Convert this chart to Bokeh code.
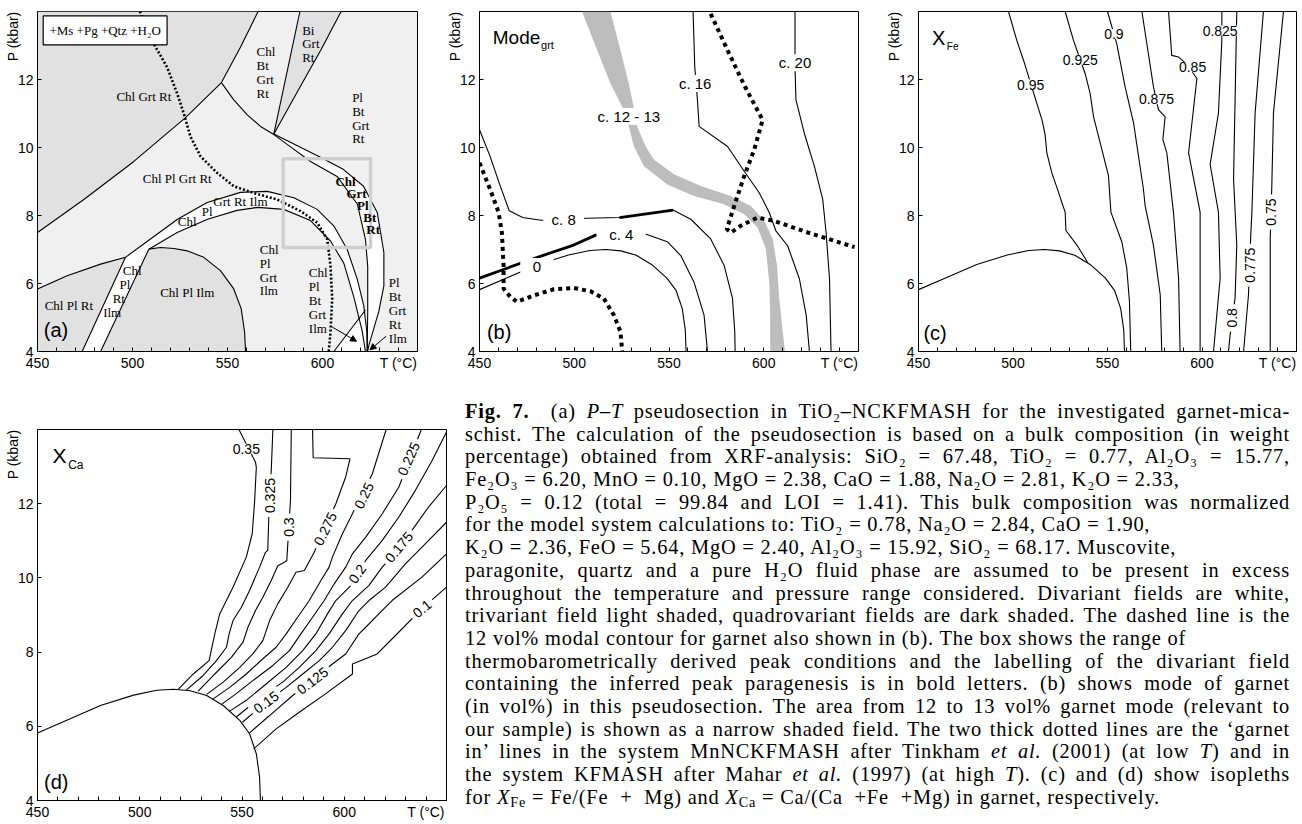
from bokeh.plotting import figure
from bokeh.models import FixedTicker, Label, Arrow, NormalHead, Div, Range1d, Title
from bokeh.layouts import row, column
from bokeh.embed import file_html
from bokeh.resources import INLINE
from bokeh.core.properties import value

SANS = "Liberation Sans"
SERIF = "Liberation Serif"
NB = "\u00a0"

# ---------------- axes ----------------
X_MAJOR = [450, 500, 550, 600, 640]
X_LABELS = {640: "T (°C)"}
X_MINOR = [460, 470, 480, 490, 510, 520, 530, 540, 560, 570, 580, 590, 610, 620, 630]
Y_MAJOR = [4, 6, 8, 10, 12]
Y_TITLE = "P (kbar)"

# ---------------- garnet-in curve (b, c, d) ----------------
GRT_T = [450.0, 464.6, 480.8, 497.0, 508.3, 516.5, 524.6, 532.7, 540.8, 548.9, 553.7, 557.0, 558.6, 559.0]
GRT_P = [5.82, 6.17, 6.56, 6.84, 6.97, 7.00, 6.96, 6.83, 6.56, 6.16, 5.80, 5.26, 4.63, 4.00]

# ---------------- panel (a) ----------------
A_UL_T = [450.0, 474.4, 500.7, 527.9, 546.8]
A_UL_P = [7.50, 8.47, 9.59, 10.88, 11.91]
A_UP_T = [546.8, 556.8, 566.1]
A_UP_P = [11.91, 12.95, 14.0]
A_BL_T = [546.8, 553.3, 560.4, 567.4, 574.4, 583.2, 593.7, 607.7, 618.4, 622.6, 623.8, 623.8, 623.5]
A_BL_P = [11.91, 11.40, 10.96, 10.62, 10.38, 10.02, 9.59, 9.15, 8.33, 7.30, 6.51, 5.17, 4.0]
A_BR_T = [574.4, 598.9, 611.1, 621.6, 628.8, 632.3, 632.3, 629.6, 624.4, 623.7]
A_BR_P = [10.40, 9.71, 9.35, 8.86, 8.09, 6.92, 5.93, 5.17, 4.18, 4.0]
A_WL_T = [574.4, 588.1]
A_WL_P = [10.40, 14.0]
A_WR_T = [574.4, 589.2, 599.0, 609.8]
A_WR_P = [10.40, 11.88, 12.85, 14.0]
A_ARCU_T = [496.3, 510.0, 523.7, 539.3, 556.8, 570.9, 584.9, 597.2, 606.0, 613.0, 618.3, 621.7, 623.3, 623.6]
A_ARCU_P = [6.77, 7.33, 7.89, 8.38, 8.68, 8.71, 8.52, 8.18, 7.69, 7.00, 6.13, 5.35, 4.60, 4.0]
A_ARCL_T = [508.6, 523.5, 539.5, 555.0, 566.0, 579.6, 593.7, 604.2, 611.2, 616.5, 620.9, 622.6]
A_ARCL_P = [7.01, 7.50, 7.89, 8.15, 8.24, 8.18, 7.85, 7.25, 6.60, 5.60, 4.60, 4.0]
A_RL_T = [473.5, 496.3]
A_RL_P = [4.0, 6.77]
A_RR_T = [483.2, 508.6]
A_RR_P = [4.0, 7.01]
A_LOW_T = [450.0, 465.6, 483.2, 496.3]
A_LOW_P = [5.84, 6.23, 6.57, 6.77]
A_CPI_T = [508.6, 514.7, 521.8, 528.8, 537.5, 546.3, 553.3, 557.2, 559.0, 559.5]
A_CPI_P = [7.01, 7.06, 7.03, 6.96, 6.77, 6.38, 5.84, 5.26, 4.57, 4.0]
A_TRI_T = [606.0, 622.6]
A_TRI_P = [4.0, 5.22]
A_TRIF_T = [606.0, 619.4, 620.9, 622.6]
A_TRIF_P = [4.0, 4.98, 4.60, 4.0]
A_DOT_T = [503.9, 511.2, 518.2, 523.5, 527.0, 530.5, 535.8, 544.6, 553.3, 563.9, 576.1, 588.4, 597.2, 602.5, 604.2, 605.1, 604.2, 603.3]
A_DOT_P = [14.0, 13.05, 12.36, 11.59, 11.0, 10.32, 9.74, 9.25, 8.86, 8.66, 8.47, 8.13, 7.79, 7.30, 6.52, 5.55, 4.57, 4.0]
A_BOX = [579.3, 625.3, 7.06, 9.67]          # left, right, bottom, top
A_LEG = [453.0, 518.2, 13.02, 13.87]
A_LEG_TXT = "+Ms +Pg +Qtz +H\u2082O"

A_LC_TXT = ["Chl Grt Rt", "Chl Pl  Grt Rt", "Grt Rt Ilm", "Pl", "Chl", "Chl Pl Rt", "Chl Pl Ilm",
            "Chl", "Pl", "Rt", "Ilm"]
A_LC_T = [506.0, 524.4, 556.8, 539.3, 528.8, 466.5, 528.8, 499.8, 496.0, 492.8, 489.3]
A_LC_P = [11.51, 9.09, 8.42, 8.13, 7.81, 5.35, 5.75, 6.38, 5.97, 5.57, 5.16]

A_LL_TXT = ["Chl", "Bt", "Grt", "Rt",
            "Bi", "Grt", "Rt",
            "Pl", "Bt", "Grt", "Rt",
            "Chl", "Pl", "Grt", "Ilm",
            "Chl", "Pl", "Bt", "Grt", "Ilm",
            "Pl", "Bt", "Grt", "Rt", "Ilm"]
A_LL_T = [565.3] * 4 + [589.3] * 3 + [615.6] * 4 + [567.0] * 4 + [592.8] * 5 + [634.9] * 5
A_LL_P = [12.81, 12.40, 12.0, 11.59,
          13.44, 13.06, 12.65,
          11.48, 11.06, 10.66, 10.26,
          7.01, 6.60, 6.19, 5.78,
          6.31, 5.90, 5.49, 5.08, 4.67,
          6.02, 5.61, 5.20, 4.79, 4.38]

A_LB_TXT = ["Chl", "Grt", "Pl", "Bt", "Rt"]
A_LB_T = [612.1, 617.9, 621.2, 624.9, 626.7]
A_LB_P = [8.99, 8.64, 8.28, 7.94, 7.60]

A_ARROWS = [(605.1, 4.72, 617.9, 4.30), (633.5, 4.45, 625.0, 4.05)]

A_LIGHT = "#f0f0f0"
A_DARK = "#e1e1e1"

# ---------------- panel (b) ----------------
B_C20_T = [616.5, 616.5, 617.0, 621.4, 626.7, 631.1, 632.9, 634.7, 635.5]
B_C20_P = [14.0, 12.37, 11.40, 10.42, 9.45, 8.48, 7.50, 6.14, 4.0]
B_C16_T = [562.7, 563.6, 565.0, 565.9, 580.9, 589.7, 597.6, 602.9, 606.4, 612.6, 618.8, 622.4, 624.1]
B_C16_P = [14.0, 12.37, 11.40, 10.62, 10.03, 9.30, 8.67, 8.09, 7.55, 7.11, 6.14, 5.07, 4.0]
B_C8_T = [450.0, 455.6, 460.9, 465.7, 472.8, 482.5, 506.3, 523.9, 552.1, 561.5, 572.0, 579.1, 583.5, 584.7, 584.9]
B_C8_P = [10.52, 9.74, 8.87, 8.14, 7.94, 7.86, 7.92, 7.94, 8.16, 7.89, 7.31, 6.53, 5.56, 4.58, 4.0]
B_C8B_T = [523.9, 552.1]
B_C8B_P = [7.94, 8.16]
B_C4_T = [450.0, 464.5, 482.1, 499.7, 511.6, 538.0, 549.1, 556.2, 563.2, 568.5, 570.3]
B_C4_P = [6.16, 6.45, 6.80, 7.13, 7.43, 7.45, 7.23, 6.82, 6.04, 5.07, 4.0]
B_C4B_T = [450.0, 464.5, 482.1, 499.7, 511.6]
B_C4B_P = [6.16, 6.45, 6.80, 7.13, 7.43]
B_BANDL_T = [504.1, 512.1, 519.1, 525.3, 528.8, 531.5, 536.8, 549.1, 563.2, 579.1, 589.7, 596.7, 601.1, 602.9, 603.4, 603.4]
B_BANDL_P = [14.0, 12.86, 11.88, 11.20, 10.62, 10.03, 9.45, 8.91, 8.57, 8.33, 8.04, 7.65, 7.02, 6.04, 5.07, 4.0]
B_BANDR_T = [519.1, 524.4, 528.8, 530.6, 533.2, 537.7, 542.1, 552.6, 566.8, 582.6, 593.2, 600.3, 604.7, 607.0, 608.2, 610.0, 611.2]
B_BANDR_P = [14.0, 12.86, 11.88, 11.40, 10.62, 10.03, 9.64, 9.21, 8.87, 8.57, 8.28, 7.84, 7.31, 6.53, 5.56, 4.58, 4.0]
B_DOT1_T = [450.0, 455.6, 460.1, 461.8, 462.7, 462.7, 466.2, 469.8, 478.6, 489.2, 499.7, 508.6, 515.6, 520.9, 524.4, 525.3]
B_DOT1_P = [9.55, 8.77, 8.09, 7.50, 6.53, 5.85, 5.61, 5.46, 5.65, 5.83, 5.87, 5.77, 5.56, 5.07, 4.58, 4.0]
B_DOT2_T = [572.0, 580.9, 589.7, 599.4, 595.0, 589.7, 584.4, 580.5, 582.6, 587.9, 596.7, 605.6, 623.2, 647.9]
B_DOT2_P = [13.93, 12.86, 11.83, 10.81, 9.94, 9.16, 8.28, 7.60, 7.50, 7.70, 7.94, 7.84, 7.50, 7.07]
B_LBL_TXT = ["c. 20", "c. 16", "c. 12 - 13", NB * 2 + "c. 8" + NB * 2, NB * 3 + "c. 4" + NB * 3, NB * 3 + "0" + NB * 3]
B_LBL_T = [616.5, 563.8, 528.8, 494.4, 524.8, 480.3]
B_LBL_P = [12.49, 11.88, 10.91, 7.89, 7.44, 6.50]
B_BAND_COLOR = "#bdbdbd"

# ---------------- panel (c) ----------------
C_LINES = {
    "0.95": ([497.6, 502.0, 505.6, 512.6, 515.3, 517.0, 517.9, 520.5, 524.1, 525.8, 527.6, 528.0, 533.8, 539.5],
             [14.0, 13.15, 12.56, 11.30, 10.82, 10.38, 9.84, 9.26, 8.68, 8.39, 8.10, 7.56, 7.13, 6.62]),
    "0.925": ([527.6, 532.0, 538.2, 540.8, 542.6, 546.1, 550.5, 551.8, 557.6, 560.2, 561.6, 562.3],
              [14.0, 13.15, 12.17, 11.59, 10.91, 10.14, 9.17, 8.10, 7.22, 6.45, 5.48, 4.0]),
    "0.9": ([550.0, 554.9, 559.3, 563.8, 569.0, 569.9, 574.3, 577.9, 578.7],
            [14.0, 13.05, 11.79, 10.72, 8.78, 8.29, 7.13, 5.67, 4.0]),
    "0.875": ([568.2, 574.3, 577.0, 580.5, 579.3, 581.4, 584.9, 587.6, 588.4],
              [14.0, 11.79, 11.11, 10.91, 10.23, 9.84, 8.10, 6.16, 4.0]),
    "0.85": ([582.3, 584.0, 587.6, 592.0, 597.3, 592.9, 599.0, 599.0],
             [14.0, 12.71, 12.66, 12.45, 12.03, 9.84, 8.10, 4.0]),
    "0.825": ([610.5, 610.5, 608.7, 604.3, 608.7, 609.6, 606.1],
              [14.0, 13.15, 11.01, 9.50, 8.10, 6.16, 4.0]),
    "0.8": ([618.4, 616.7, 618.4, 617.5, 614.9, 614.0],
            [14.0, 9.07, 7.13, 5.57, 4.50, 4.0]),
    "0.775": ([632.5, 628.1, 626.4, 625.8, 624.6, 622.0],
              [14.0, 11.01, 8.10, 7.42, 5.67, 4.0]),
    "0.75": ([643.1, 637.8, 636.9, 636.1, 636.1],
             [14.0, 11.01, 8.78, 7.32, 4.0]),
}
C_LBL_TXT = ["0.95", "0.925", "0.9", "0.875", "0.85", "0.825", NB + "0.8" + NB, NB + "0.775" + NB, NB + "0.75" + NB]
C_LBL_T = [509.3, 535.6, 553.4, 575.9, 595.0, 609.6, 616.1, 625.3, 636.5]
C_LBL_P = [11.85, 12.58, 13.34, 11.42, 12.36, 13.44, 4.99, 6.54, 8.10]
C_LBL_A = [0, 0, 0, 0, 0, 0, 90, 90, 90]

# ---------------- panel (d) ----------------
D_LINES = {
    "0.35": ([548.5, 556.6, 557.0, 556.2, 555.0, 552.1, 545.6, 539.1, 536.7, 533.9, 526.2, 518.9],
             [14.0, 13.12, 12.98, 12.09, 11.19, 10.56, 9.75, 9.03, 8.49, 7.77, 7.41, 7.00]),
    "0.325": ([565.1, 564.3, 563.1, 562.6, 561.5, 558.6, 553.7, 549.7, 545.6, 543.7, 542.4, 537.5, 531.0, 522.9],
              [14.0, 12.89, 11.64, 10.74, 10.69, 10.29, 9.66, 9.21, 8.85, 8.49, 8.13, 7.77, 7.37, 6.98]),
    "0.3": ([574.1, 573.7, 571.9, 570.7, 567.5, 564.3, 560.2, 556.6, 552.9, 550.5, 544.8, 536.7, 528.6],
            [14.0, 12.09, 10.47, 10.42, 10.33, 9.93, 9.48, 9.12, 8.67, 8.27, 7.86, 7.41, 6.95]),
    "0.275": ([584.5, 584.8, 602.8, 600.7, 595.9, 585.3, 580.5, 576.4, 572.4, 567.5, 563.5, 560.2, 555.3, 548.9, 540.8, 532.7],
              [14.0, 13.24, 13.21, 12.72, 12.0, 10.69, 10.20, 10.15, 9.75, 9.30, 8.85, 8.31, 7.95, 7.59, 7.19, 6.86]),
    "0.25": ([620.5, 613.7, 604.0, 599.1, 594.2, 592.6, 588.6, 582.9, 577.2, 571.6, 566.7, 560.2, 552.1, 544.0, 535.9],
             [14.0, 12.80, 11.73, 11.19, 10.56, 10.29, 9.93, 9.39, 8.94, 8.49, 8.13, 7.82, 7.41, 7.05, 6.74]),
    "0.225": ([637.7, 626.7, 618.6, 610.5, 604.0, 600.7, 595.1, 590.2, 584.5, 578.8, 573.2, 565.1, 555.3, 547.2, 540.0],
              [14.0, 12.45, 11.73, 11.10, 10.65, 10.29, 9.84, 9.39, 8.94, 8.49, 8.04, 7.64, 7.23, 6.88, 6.59]),
    "0.2": ([650.0, 642.9, 634.8, 626.7, 618.6, 610.5, 604.0, 595.9, 591.8, 586.1, 579.7, 571.6, 561.8, 552.1, 544.0],
            [13.93, 13.16, 12.36, 11.64, 11.01, 10.47, 9.84, 9.39, 9.03, 8.49, 8.04, 7.59, 7.14, 6.70, 6.41]),
    "0.175": ([650.0, 641.2, 633.1, 625.0, 618.6, 612.1, 604.0, 599.1, 592.6, 586.1, 578.0, 569.9, 560.2, 547.2],
              [12.49, 11.91, 11.28, 10.69, 10.29, 9.80, 9.39, 9.03, 8.49, 8.04, 7.59, 7.19, 6.83, 6.25]),
    "0.15": ([650.0, 639.6, 629.9, 620.2, 612.1, 607.2, 600.7, 594.2, 587.8, 579.7, 571.6, 561.8, 550.2],
             [11.50, 10.92, 10.38, 9.75, 9.39, 9.12, 8.58, 8.13, 7.77, 7.41, 7.05, 6.65, 6.11]),
    "0.125": ([650.0, 638.0, 623.4, 616.9, 610.5, 607.2, 600.7, 594.2, 584.5, 574.8, 563.5, 553.4],
              [10.65, 10.02, 9.39, 9.03, 8.67, 8.49, 7.95, 7.68, 7.23, 6.83, 6.29, 5.81]),
    "0.1": ([650.0, 638.0, 624.2, 616.1, 604.0, 604.0, 591.0, 578.0, 566.7, 555.7],
            [9.75, 9.17, 8.40, 7.95, 7.68, 7.41, 6.88, 6.38, 5.93, 5.39]),
}
D_LBL_TXT = ["0.35", NB + "0.325" + NB, NB + "0.3" + NB, NB + "0.275" + NB, NB + "0.25" + NB, NB + "0.225" + NB,
             NB + "0.2" + NB, NB + "0.175" + NB, NB + "0.15" + NB, NB + "0.125" + NB, NB + "0.1" + NB]
D_LBL_T = [552.1, 563.8, 573.2, 590.7, 609.6, 631.5, 606.4, 626.7, 561.8, 584.5, 638.0]
D_LBL_P = [13.48, 12.22, 11.37, 11.32, 12.22, 13.21, 10.11, 10.83, 6.65, 7.23, 9.17]
D_LBL_A = [0, 90, 90, 64, 64, 66, 55, 50, 36, 37, 40]

# ---------------- caption ----------------
CAPTION = [
    ('<b>Fig. 7.</b>&nbsp; (a) <i>P</i>&ndash;<i>T</i> pseudosection in TiO\u2082&ndash;NCKFMASH for the investigated garnet-mica-', True),
    ('schist. The calculation of the pseudosection is based on a bulk composition (in weight', True),
    ('percentage) obtained from XRF-analysis: SiO\u2082 = 67.48, TiO\u2082 = 0.77, Al\u2082O\u2083 = 15.77,', True),
    ('Fe\u2082O\u2083 = 6.20, MnO = 0.10, MgO = 2.38, CaO = 1.88, Na\u2082O = 2.81, K\u2082O = 2.33,', False),
    ('P\u2082O\u2085 = 0.12 (total = 99.84 and LOI = 1.41). This bulk composition was normalized', True),
    ('for the model system calculations to: TiO\u2082 = 0.78, Na\u2082O = 2.84, CaO = 1.90,', False),
    ('K\u2082O = 2.36, FeO = 5.64, MgO = 2.40, Al\u2082O\u2083 = 15.92, SiO\u2082 = 68.17. Muscovite,', False),
    ('paragonite, quartz and a pure H\u2082O fluid phase are assumed to be present in excess', True),
    ('throughout the temperature and pressure range considered. Divariant fields are white,', True),
    ('trivariant field light shaded, quadrovariant fields are dark shaded. The dashed line is the', True),
    ('12 vol% modal contour for garnet also shown in (b). The box shows the range of', False),
    ('thermobarometrically derived peak conditions and the labelling of the divariant field', True),
    ('containing the inferred peak paragenesis is in bold letters. (b) shows mode of garnet', True),
    ('(in vol%) in this pseudosection. The area from 12 to 13 vol% garnet mode (relevant to', True),
    ('our sample) is shown as a narrow shaded field. The two thick dotted lines are the &lsquo;garnet', True),
    ('in&rsquo; lines in the system MnNCKFMASH after Tinkham <i>et al.</i> (2001) (at low <i>T</i>) and in', True),
    ('the system KFMASH after Mahar <i>et al.</i> (1997) (at high <i>T</i>). (c) and (d) show isopleths', True),
    ('for <i>X</i><sub>Fe</sub> = Fe/(Fe &nbsp;+ &nbsp;Mg) and <i>X</i><sub>Ca</sub> = Ca/(Ca &nbsp;+Fe &nbsp;+Mg) in garnet, respectively.', False),
]


def base_fig(w, h, bl, br, bt, bb, bg="white"):
    p = figure(width=w, height=h, x_range=Range1d(450, 650), y_range=Range1d(4, 14),
               output_backend="svg", toolbar_location=None,
               min_border_left=bl, min_border_right=br, min_border_top=bt, min_border_bottom=bb,
               background_fill_color=bg)
    p.xgrid.visible = False
    p.ygrid.visible = False
    p.outline_line_color = "black"
    p.outline_line_width = 1
    p.outline_line_alpha = 1.0
    xa, ya = p.xaxis[0], p.yaxis[0]
    xa.ticker = FixedTicker(ticks=X_MAJOR, minor_ticks=X_MINOR)
    xa.major_label_overrides = X_LABELS
    ya.ticker = FixedTicker(ticks=Y_MAJOR, minor_ticks=[])
    for ax in (xa, ya):
        ax.major_tick_in = 4
        ax.major_tick_out = 0
        ax.minor_tick_in = 4
        ax.minor_tick_out = 0
        ax.axis_line_color = "black"
        ax.major_tick_line_color = "black"
        ax.minor_tick_line_color = "black"
        ax.major_label_text_font = SANS
        ax.major_label_text_font_size = "14px"
        ax.major_label_text_color = "black"
    xa.major_label_standoff = 3
    ya.major_label_standoff = 4
    p.add_layout(Title(text=Y_TITLE, align="right", text_font=SANS, text_font_size="14px",
                       text_font_style="normal", text_color="black", standoff=-12), "left")
    return p


def bg_labels(p, xs, ys, texts, angles, size):
    for x, y, t, a in zip(xs, ys, texts, angles):
        p.add_layout(Label(x=x, y=y, text=t, angle=a, angle_units="deg",
                           text_font=SANS, text_font_size=size, text_color="black",
                           text_align="center", text_baseline="middle",
                           background_fill_color="white", background_fill_alpha=1.0))


def panel_tag(p, txt, t, pr):
    p.text(x=[t], y=[pr], text=[txt], text_font=value(SANS), text_font_size=value("20px"),
           text_align="left", text_baseline="middle", text_color="black")


# ================= (a) =================
pa = base_fig(437, 400, 37, 20, 11, 47, bg=A_LIGHT)
dark = dict(fill_color=A_DARK, line_color=None)
white = dict(fill_color="white", line_color=None)
pa.patch(A_UL_T + A_UP_T[1:] + [450.0], A_UL_P + A_UP_P[1:] + [14.0], **dark)
pa.patch(A_WL_T + A_WR_T[::-1], A_WL_P + A_WR_P[::-1], **dark)
pa.patch(A_CPI_T + [A_RR_T[0]], A_CPI_P + [A_RR_P[0]], **dark)
pa.patch(A_LOW_T + [A_RL_T[0], 450.0], A_LOW_P + [A_RL_P[0], 4.0], **dark)
pa.patch(A_RL_T + A_RR_T[::-1], A_RL_P + A_RR_P[::-1], **white)
pa.patch(A_ARCU_T + A_ARCL_T[::-1], A_ARCU_P + A_ARCL_P[::-1], **white)
pa.patch(A_BL_T[4:] + A_BR_T[::-1], A_BL_P[4:] + A_BR_P[::-1], **white)
pa.patch(A_TRIF_T, A_TRIF_P, **white)

for xs, ys in [(A_UL_T, A_UL_P), (A_UP_T, A_UP_P), (A_BL_T, A_BL_P), (A_BR_T, A_BR_P),
               (A_WL_T, A_WL_P), (A_WR_T, A_WR_P), (A_ARCU_T, A_ARCU_P), (A_ARCL_T, A_ARCL_P),
               (A_RL_T, A_RL_P), (A_RR_T, A_RR_P), (A_LOW_T, A_LOW_P), (A_CPI_T, A_CPI_P),
               (A_TRI_T, A_TRI_P)]:
    pa.line(xs, ys, line_color="black", line_width=1.1)

pa.line(A_DOT_T, A_DOT_P, line_color="black", line_width=2.6, line_dash="2 2")
pa.quad(left=[A_BOX[0]], right=[A_BOX[1]], bottom=[A_BOX[2]], top=[A_BOX[3]],
        fill_alpha=0, line_color="#cfcfcf", line_width=3.5)
pa.quad(left=[A_LEG[0]], right=[A_LEG[1]], bottom=[A_LEG[2]], top=[A_LEG[3]],
        fill_color="white", line_color="black", line_width=1.2)
pa.text(x=[(A_LEG[0] + A_LEG[1]) / 2], y=[(A_LEG[2] + A_LEG[3]) / 2], text=[A_LEG_TXT],
        text_font=value(SERIF), text_font_size=value("13px"), text_align="center",
        text_baseline="middle", text_color="black")
pa.text(x=A_LC_T, y=A_LC_P, text=A_LC_TXT, text_font=value(SERIF), text_font_size=value("13px"),
        text_align="center", text_baseline="middle", text_color="black")
pa.text(x=A_LL_T, y=A_LL_P, text=A_LL_TXT, text_font=value(SERIF), text_font_size=value("13px"),
        text_align="left", text_baseline="middle", text_color="black")
pa.text(x=A_LB_T, y=A_LB_P, text=A_LB_TXT, text_font=value(SERIF), text_font_size=value("13px"),
        text_font_style="bold", text_align="center", text_baseline="middle", text_color="black")
for x0, y0, x1, y1 in A_ARROWS:
    pa.add_layout(Arrow(end=NormalHead(size=6, fill_color="black", line_color="black"),
                        x_start=x0, y_start=y0, x_end=x1, y_end=y1, line_width=1, line_color="black"))
panel_tag(pa, "(a)", 453.3, 4.62)

# ================= (b) =================
pb = base_fig(441, 400, 42, 20, 11, 47)
pb.patch(B_BANDL_T + B_BANDR_T[::-1], B_BANDL_P + B_BANDR_P[::-1], fill_color=B_BAND_COLOR, line_color=None)
for xs, ys in [(B_C20_T, B_C20_P), (B_C16_T, B_C16_P), (B_C8_T, B_C8_P), (B_C4_T, B_C4_P), (GRT_T, GRT_P)]:
    pb.line(xs, ys, line_color="black", line_width=1.1)
pb.line(B_C8B_T, B_C8B_P, line_color="black", line_width=2.8)
pb.line(B_C4B_T, B_C4B_P, line_color="black", line_width=2.8)
pb.line(B_DOT1_T, B_DOT1_P, line_color="black", line_width=4, line_dash="4 4")
pb.line(B_DOT2_T, B_DOT2_P, line_color="black", line_width=4, line_dash="4 4")
bg_labels(pb, B_LBL_T, B_LBL_P, B_LBL_TXT, [0] * len(B_LBL_TXT), "15px")
pb.text(x=[457.0], y=[13.25], text=["Mode"], text_font=value(SANS), text_font_size=value("19px"),
        text_align="left", text_baseline="middle", text_color="black")
pb.text(x=[482.5], y=[13.02], text=["grt"], text_font=value(SANS), text_font_size=value("11px"),
        text_align="left", text_baseline="middle", text_color="black")
panel_tag(pb, "(b)", 453.9, 4.58)

# ================= (c) =================
pc = base_fig(422, 400, 40, 4, 7, 49)
pc.line(GRT_T, GRT_P, line_color="black", line_width=1.1)
for key, (xs, ys) in C_LINES.items():
    pc.line(xs, ys, line_color="black", line_width=1.1)
bg_labels(pc, C_LBL_T, C_LBL_P, C_LBL_TXT, C_LBL_A, "14px")
pc.text(x=[457.1], y=[13.22], text=["X"], text_font=value(SANS), text_font_size=value("20px"),
        text_align="left", text_baseline="middle", text_color="black")
pc.text(x=[465.0], y=[12.98], text=["Fe"], text_font=value(SANS), text_font_size=value("10px"),
        text_align="left", text_baseline="middle", text_color="black")
panel_tag(pc, "(c)", 452.6, 4.55)

# ================= (d) =================
pd_ = base_fig(455, 422, 37, 9, 29, 22)
pd_.line(GRT_T, GRT_P, line_color="black", line_width=1.1)
for key, (xs, ys) in D_LINES.items():
    pd_.line(xs, ys, line_color="black", line_width=1.1)
bg_labels(pd_, D_LBL_T, D_LBL_P, D_LBL_TXT, D_LBL_A, "14px")
pd_.text(x=[457.3], y=[13.30], text=["X"], text_font=value(SANS), text_font_size=value("21px"),
         text_align="left", text_baseline="middle", text_color="black")
pd_.text(x=[465.0], y=[13.05], text=["Ca"], text_font=value(SANS), text_font_size=value("12px"),
         text_align="left", text_baseline="middle", text_color="black")
panel_tag(pd_, "(d)", 453.2, 4.50)

# ================= caption =================
rows_html = []
for txt, just in CAPTION:
    al = "justify" if just else "left"
    rows_html.append(
        f'<div style="white-space:nowrap;height:22.7px;line-height:22.7px;'
        f'text-align:{al};text-align-last:{al};">{txt}</div>')
caption_html = (
    '<div style="font-family:\'Liberation Serif\',serif;font-size:20.4px;letter-spacing:0.8px;color:#000;'
    'padding-left:10px;width:835px;">'
    '<style>sub{font-size:0.7em;line-height:0;vertical-align:-0.2em;}</style>'
    + "".join(rows_html) + '</div>')
cap = Div(text=caption_html, width=845, height=422, margin=(0, 0, 0, 0))

layout = column(row(pa, pb, pc), row(pd_, cap))
open("out.html", "w").write(file_html(layout, INLINE))
